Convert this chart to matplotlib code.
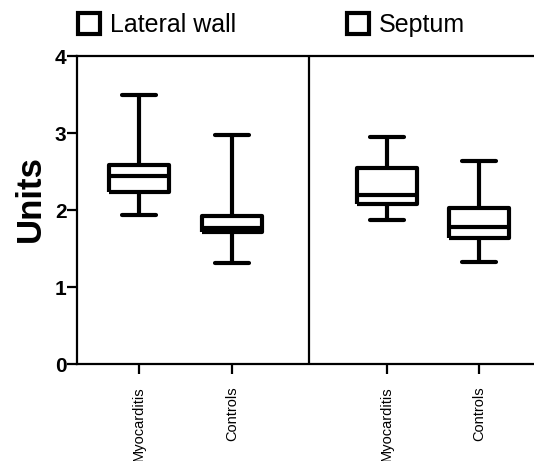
import matplotlib
matplotlib.use("Agg")
import matplotlib.pyplot as plt
from matplotlib.patches import Patch

plt.rcParams["font.family"] = ["Liberation Sans", "DejaVu Sans"]

# box stats (Units)
GROUPS = ["Lateral wall", "Septum"]
LABELS = ["Myocarditis", "Controls", "Myocarditis", "Controls"]
WHIS_LO = [1.94, 1.31, 1.87, 1.33]
Q1 = [2.24, 1.71, 2.08, 1.63]
MEDIAN = [2.44, 1.76, 2.19, 1.78]
Q3 = [2.58, 1.92, 2.55, 2.02]
WHIS_HI = [3.50, 2.97, 2.95, 2.64]

POSITIONS = [1, 2, 3.67, 4.66]
LW = 3.0

fig = plt.figure(figsize=(5.34, 4.61), dpi=100)
ax = fig.add_axes([0.1442, 0.2104, 0.8558, 0.6681])

stats = []
for i in range(len(LABELS)):
    stats.append({
        "med": MEDIAN[i], "q1": Q1[i], "q3": Q3[i],
        "whislo": WHIS_LO[i], "whishi": WHIS_HI[i], "label": LABELS[i],
    })

line = dict(color="black", linewidth=LW, solid_capstyle="butt")
ax.bxp(
    stats,
    positions=POSITIONS,
    widths=0.65,
    capwidths=0.37,
    showfliers=False,
    boxprops=line,
    whiskerprops=line,
    capprops=dict(color="black", linewidth=LW, solid_capstyle="round"),
    medianprops=line,
)

# divider between the two regions
ax.axvline(2.83, color="black", linewidth=1.6)

ax.set_xlim(0.333, 5.25)
ax.set_ylim(0, 4)
ax.set_yticks([0, 1, 2, 3, 4])
ax.set_xticks(POSITIONS)
ax.set_xticklabels(LABELS, rotation=90, fontsize=10.5, va="top")

for lbl in ax.get_yticklabels():
    lbl.set_fontweight("bold")
    lbl.set_fontsize(15)

ax.tick_params(axis="y", length=7, width=1.6, pad=0.5)
ax.tick_params(axis="x", length=7, width=1.6, pad=9)

for side in ["left", "bottom", "top"]:
    ax.spines[side].set_linewidth(1.6)
ax.spines["right"].set_visible(False)

ax.set_ylabel("Units", fontsize=25, fontweight="bold")
ax.yaxis.set_label_coords(-0.066, 0.536)

handles = [Patch(facecolor="white", edgecolor="black", linewidth=3, label=g) for g in GROUPS]
fig.legend(
    handles=handles,
    loc="center left",
    bbox_to_anchor=(0.146, 0.946),
    ncol=2,
    frameon=False,
    fontsize=18,
    handlelength=0.9,
    handleheight=0.95,
    handletextpad=0.4,
    columnspacing=4.4,
    borderpad=0,
    borderaxespad=0,
)

fig.savefig("out.png", dpi=100)
